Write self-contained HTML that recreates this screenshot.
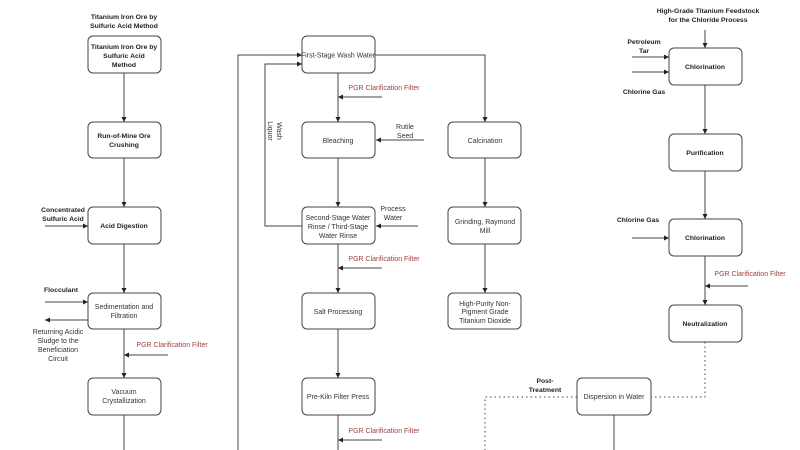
<!DOCTYPE html>
<html><head><style>
html,body{margin:0;padding:0;background:#fff;}
svg{display:block;font-family:"Liberation Sans",Arial,sans-serif;}
.b{fill:#fff;stroke:#444;stroke-width:1;}
.l{stroke:#444;stroke-width:1;fill:none;}
.d{stroke:#444;stroke-width:1;fill:none;stroke-dasharray:1.5,3;}
text{font-size:7px;fill:#333;}
.k{font-weight:bold;fill:#222;font-size:6.8px;}
.r{fill:#a04040;}
</style></head><body>
<svg width="800" height="450" viewBox="0 0 800 450">
<defs><marker id="a" markerWidth="6" markerHeight="6" refX="5" refY="3" orient="auto" markerUnits="userSpaceOnUse"><path d="M0,0.5 L5,3 L0,5.5z" fill="#222"/></marker></defs>
<g text-anchor="middle">
<text class="k" x="124" y="19">Titanium Iron Ore by</text>
<text class="k" x="124" y="28">Sulfuric Acid Method</text>
<rect class="b" x="88" y="36" width="73" height="37" rx="5"/>
<text class="k" x="124" y="49">Titanium Iron Ore by</text>
<text class="k" x="124" y="58">Sulfuric Acid</text>
<text class="k" x="124" y="67">Method</text>
<line class="l" x1="124" y1="73" x2="124" y2="122" marker-end="url(#a)"/>
<rect class="b" x="88" y="122" width="73" height="36" rx="5"/>
<text class="k" x="124" y="138">Run-of-Mine Ore</text>
<text class="k" x="124" y="147">Crushing</text>
<line class="l" x1="124" y1="158" x2="124" y2="207" marker-end="url(#a)"/>
<rect class="b" x="88" y="207" width="73" height="37" rx="5"/>
<text class="k" x="124" y="228">Acid Digestion</text>
<text class="k" x="63" y="212">Concentrated</text>
<text class="k" x="63" y="221">Sulfuric Acid</text>
<line class="l" x1="45" y1="226" x2="88" y2="226" marker-end="url(#a)"/>
<line class="l" x1="124" y1="244" x2="124" y2="293" marker-end="url(#a)"/>
<rect class="b" x="88" y="293" width="73" height="36" rx="5"/>
<text x="124" y="309">Sedimentation and</text>
<text x="124" y="318">Filtration</text>
<text class="k" x="61" y="292">Flocculant</text>
<line class="l" x1="45" y1="302" x2="88" y2="302" marker-end="url(#a)"/>
<line class="l" x1="88" y1="320" x2="45" y2="320" marker-end="url(#a)"/>
<text x="58" y="334">Returning Acidic</text>
<text x="58" y="343">Sludge to the</text>
<text x="58" y="352">Beneficiation</text>
<text x="58" y="361">Circuit</text>
<text class="r" x="172" y="347">PGR Clarification Filter</text>
<line class="l" x1="168" y1="355" x2="124" y2="355" marker-end="url(#a)"/>
<line class="l" x1="124" y1="329" x2="124" y2="378" marker-end="url(#a)"/>
<rect class="b" x="88" y="378" width="73" height="37" rx="5"/>
<text x="124" y="394">Vacuum</text>
<text x="124" y="403">Crystallization</text>
<line class="l" x1="124" y1="415" x2="124" y2="450"/>

<polyline class="l" points="238,450 238,55 302,55" marker-end="url(#a)"/>
<rect class="b" x="302" y="36" width="73" height="37" rx="5"/>
<text x="338" y="57.5">First-Stage Wash Water</text>
<polyline class="l" points="375,55 485,55 485,122" marker-end="url(#a)"/>
<text class="r" x="384" y="90">PGR Clarification Filter</text>
<line class="l" x1="382" y1="97" x2="338" y2="97" marker-end="url(#a)"/>
<line class="l" x1="338" y1="73" x2="338" y2="122" marker-end="url(#a)"/>
<rect class="b" x="302" y="122" width="73" height="36" rx="5"/>
<text x="338" y="143">Bleaching</text>
<text x="405" y="129">Rutile</text>
<text x="405" y="138">Seed</text>
<line class="l" x1="424" y1="140" x2="376" y2="140" marker-end="url(#a)"/>
<line class="l" x1="338" y1="158" x2="338" y2="207" marker-end="url(#a)"/>
<rect class="b" x="302" y="207" width="73" height="37" rx="5"/>
<text x="338" y="220">Second-Stage Water</text>
<text x="338" y="229">Rinse / Third-Stage</text>
<text x="338" y="238">Water Rinse</text>
<polyline class="l" points="302,226 265,226 265,64 302,64" marker-end="url(#a)"/>
<text transform="translate(274,131) rotate(90)" x="0" y="-3">Wash</text>
<text transform="translate(274,131) rotate(90)" x="0" y="6">Liquor</text>
<text x="393" y="211">Process</text>
<text x="393" y="220">Water</text>
<line class="l" x1="418" y1="226" x2="376" y2="226" marker-end="url(#a)"/>
<text class="r" x="384" y="261">PGR Clarification Filter</text>
<line class="l" x1="382" y1="268" x2="338" y2="268" marker-end="url(#a)"/>
<line class="l" x1="338" y1="244" x2="338" y2="293" marker-end="url(#a)"/>
<rect class="b" x="302" y="293" width="73" height="36" rx="5"/>
<text x="338" y="314">Salt Processing</text>
<line class="l" x1="338" y1="329" x2="338" y2="378" marker-end="url(#a)"/>
<rect class="b" x="302" y="378" width="73" height="37" rx="5"/>
<text x="338" y="399">Pre-Kiln Filter Press</text>
<text class="r" x="384" y="433">PGR Clarification Filter</text>
<line class="l" x1="382" y1="440" x2="338" y2="440" marker-end="url(#a)"/>
<line class="l" x1="338" y1="415" x2="338" y2="450"/>

<rect class="b" x="448" y="122" width="73" height="36" rx="5"/>
<text x="485" y="143">Calcination</text>
<line class="l" x1="485" y1="158" x2="485" y2="207" marker-end="url(#a)"/>
<rect class="b" x="448" y="207" width="73" height="37" rx="5"/>
<text x="485" y="224">Grinding,  Raymond</text>
<text x="485" y="233">Mill</text>
<line class="l" x1="485" y1="244" x2="485" y2="293" marker-end="url(#a)"/>
<rect class="b" x="448" y="293" width="73" height="36" rx="5"/>
<text x="485" y="306">High-Purity Non-</text>
<text x="485" y="314">Pigment Grade</text>
<text x="485" y="323">Titanium Dioxide</text>

<text class="k" x="708" y="13">High-Grade Titanium Feedstock</text>
<text class="k" x="708" y="22">for the Chloride Process</text>
<line class="l" x1="705" y1="30" x2="705" y2="48" marker-end="url(#a)"/>
<rect class="b" x="669" y="48" width="73" height="37" rx="5"/>
<text class="k" x="705" y="69">Chlorination</text>
<text class="k" x="644" y="44">Petroleum</text>
<text class="k" x="644" y="53">Tar</text>
<line class="l" x1="632" y1="57" x2="669" y2="57" marker-end="url(#a)"/>
<line class="l" x1="632" y1="72" x2="669" y2="72" marker-end="url(#a)"/>
<text class="k" x="644" y="94">Chlorine Gas</text>
<line class="l" x1="705" y1="85" x2="705" y2="134" marker-end="url(#a)"/>
<rect class="b" x="669" y="134" width="73" height="37" rx="5"/>
<text class="k" x="705" y="155">Purification</text>
<line class="l" x1="705" y1="171" x2="705" y2="219" marker-end="url(#a)"/>
<rect class="b" x="669" y="219" width="73" height="37" rx="5"/>
<text class="k" x="705" y="240">Chlorination</text>
<text class="k" x="638" y="222">Chlorine Gas</text>
<line class="l" x1="632" y1="238" x2="669" y2="238" marker-end="url(#a)"/>
<text class="r" x="750" y="276">PGR Clarification Filter</text>
<line class="l" x1="748" y1="286" x2="705" y2="286" marker-end="url(#a)"/>
<line class="l" x1="705" y1="256" x2="705" y2="305" marker-end="url(#a)"/>
<rect class="b" x="669" y="305" width="73" height="37" rx="5"/>
<text class="k" x="705" y="326">Neutralization</text>
<polyline class="d" points="705,342 705,397 651,397"/>
<rect class="b" x="577" y="378" width="74" height="37" rx="5"/>
<text x="614" y="399">Dispersion in Water</text>
<polyline class="d" points="577,397 485,397 485,450"/>
<text class="k" x="545" y="383">Post-</text>
<text class="k" x="545" y="392">Treatment</text>
<line class="l" x1="614" y1="415" x2="614" y2="450"/>
</g>
</svg>
</body></html>
